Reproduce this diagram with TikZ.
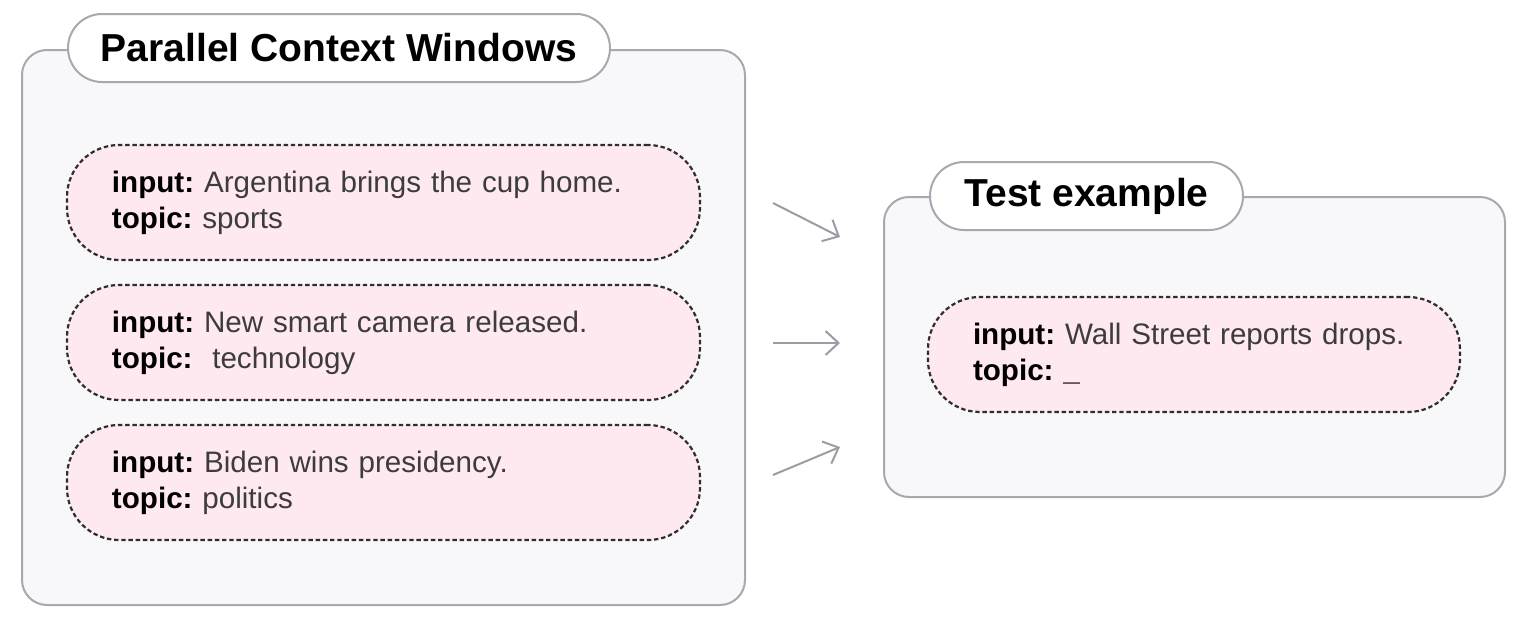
\documentclass[tikz,border=0pt]{standalone}
\usepackage{fontspec}
\setmainfont{Liberation Sans}
\usepackage{xcolor}
\usetikzlibrary{shapes,arrows.meta}
\usetikzlibrary{calc}
\definecolor{FrameGray}{HTML}{A8A8B0}
\definecolor{PanelFill}{HTML}{F8F8FA}
\definecolor{PinkFill}{HTML}{FFE9F0}
\definecolor{DashGray}{HTML}{2E2E2E}
\definecolor{TextGray}{HTML}{3C3C3C}
\definecolor{ArrowGray}{HTML}{9C9CA4}
\newcommand{\field}[2]{\textbf{\color{black}#1:}~#2}

\begin{document}
\begin{tikzpicture}[x=0.5pt,y=-0.5pt]
\tikzstyle{panel}=[draw=FrameGray,fill=PanelFill,line width=1pt,rounded corners=12.5pt,inner sep=0pt]
\tikzstyle{tab}=[draw=FrameGray,fill=white,line width=1pt,rounded corners=17pt,minimum height=34pt,inner sep=0pt,font=\fontsize{19.5}{22}\selectfont\bfseries]
\tikzstyle{example}=[draw=DashGray,fill=PinkFill,line width=1.1pt,dash pattern=on 2.2pt off 1.4pt,rounded corners=26pt,minimum height=57.5pt,inner xsep=22.5pt,inner ysep=0pt,align=left,text=TextGray,font=\fontsize{14.8}{18}\selectfont]
\tikzstyle{flow}=[draw=ArrowGray,line width=1pt,-{Straight Barb[length=6.5pt,width=12pt]}]
\useasboundingbox (0,0) rectangle (1523,621);
% left panel: the parallel windows
\node[panel,minimum width=361.5pt,minimum height=277.5pt] (pcw) at (383.5,327.5) {};
\node[tab,minimum width=271pt] (pcw_title) at (339,48) {Parallel Context Windows};
\node[example,text width=271.5pt] (ex_sports) at (383.5,202.5) {\field{input}{Argentina brings the cup home.}\\\field{topic}{sports}};
\node[example,text width=271.5pt] (ex_tech) at (383.5,342.5) {\field{input}{New smart camera released.}\\\field{topic}{~technology}};
\node[example,text width=271.5pt] (ex_politics) at (383.5,482.5) {\field{input}{Biden wins presidency.}\\\field{topic}{politics}};
% right panel: the test example
\node[panel,minimum width=310.5pt,minimum height=150pt] (test) at (1194.5,347) {};
\node[tab,minimum width=156.5pt] (test_title) at (1086.5,196) {Test example};
\node[example,text width=221pt] (ex_query) at (1194,354.5) {\field{input}{Wall Street reports drops.}\\\field{topic}{\textbf{\color{black}\_}}};
% arrows between the panels
\coordinate (from_sports) at (773,203);
\coordinate (to_sports) at (840,237);
\coordinate (from_tech) at (773,343);
\coordinate (to_tech) at (840,343);
\coordinate (from_politics) at (773,475);
\coordinate (to_politics) at (840,447);
\path[flow] (from_sports) -- (to_sports);
\path[flow] (from_tech) -- (to_tech);
\path[flow] (from_politics) -- (to_politics);
\end{tikzpicture}
\end{document}
